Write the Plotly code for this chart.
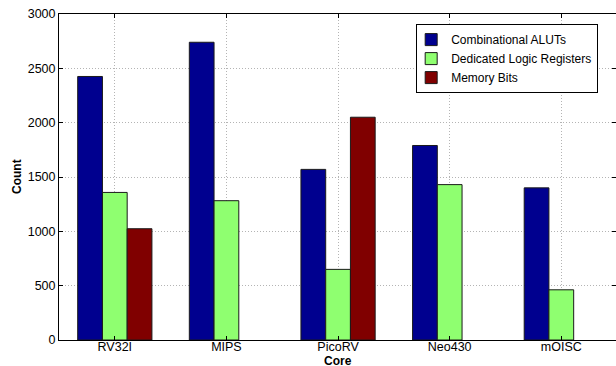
import plotly.graph_objects as go

cores = ["RV32I", "MIPS", "PicoRV", "Neo430", "mOISC"]
aluts = [2425, 2740, 1570, 1790, 1400]
registers = [1358, 1282, 650, 1430, 462]
memory_bits = [1024, None, 2050, None, None]

series = [
    ("Combinational ALUTs", aluts, "#00008F"),
    ("Dedicated Logic Registers", registers, "#8FFF70"),
    ("Memory Bits", memory_bits, "#800000"),
]

font_family = "Liberation Sans, Arial, Helvetica, sans-serif"
grid_style = dict(showgrid=True, gridcolor="#b4b4b4", griddash="1px,2px", gridwidth=1)
axis_style = dict(
    showline=True, linecolor="black", linewidth=1, mirror="ticks",
    ticks="inside", ticklen=4, tickcolor="black",
    zeroline=False, tickfont=dict(size=12.5),
)

fig = go.Figure()
for name, values, color in series:
    fig.add_trace(go.Bar(
        name=name,
        x=cores,
        y=values,
        marker=dict(color=color, line=dict(color="#1a1a1a", width=1)),
    ))

fig.update_layout(
    width=616,
    height=366,
    margin=dict(l=59, r=0, t=14, b=26),
    paper_bgcolor="white",
    plot_bgcolor="white",
    barmode="group",
    bargap=0.335,
    bargroupgap=0,
    font=dict(family=font_family, size=12.5, color="black"),
    showlegend=True,
    legend=dict(
        x=0.968, y=0.969, xanchor="right", yanchor="top",
        bgcolor="white", bordercolor="black", borderwidth=1,
        font=dict(size=12),
        tracegroupgap=0,
        itemwidth=30,
        indentation=-6,
    ),
    xaxis=dict(range=[-0.5, 4.49], automargin=False, ticklabelstandoff=-5,
               **axis_style, **grid_style),
    yaxis=dict(
        range=[0, 3000],
        tickvals=[0, 500, 1000, 1500, 2000, 2500, 3000],
        automargin=False,
        **axis_style, **grid_style,
    ),
    annotations=[
        dict(text="<b>Core</b>", xref="paper", yref="paper", x=0.5, y=-0.064,
             xanchor="center", yanchor="middle", showarrow=False, font=dict(size=12)),
        dict(text="<b>Count</b>", xref="paper", yref="paper", x=-0.0754, y=0.5,
             xanchor="center", yanchor="middle", textangle=-90, showarrow=False,
             font=dict(size=12)),
    ],
)

fig.write_html("out.html")
